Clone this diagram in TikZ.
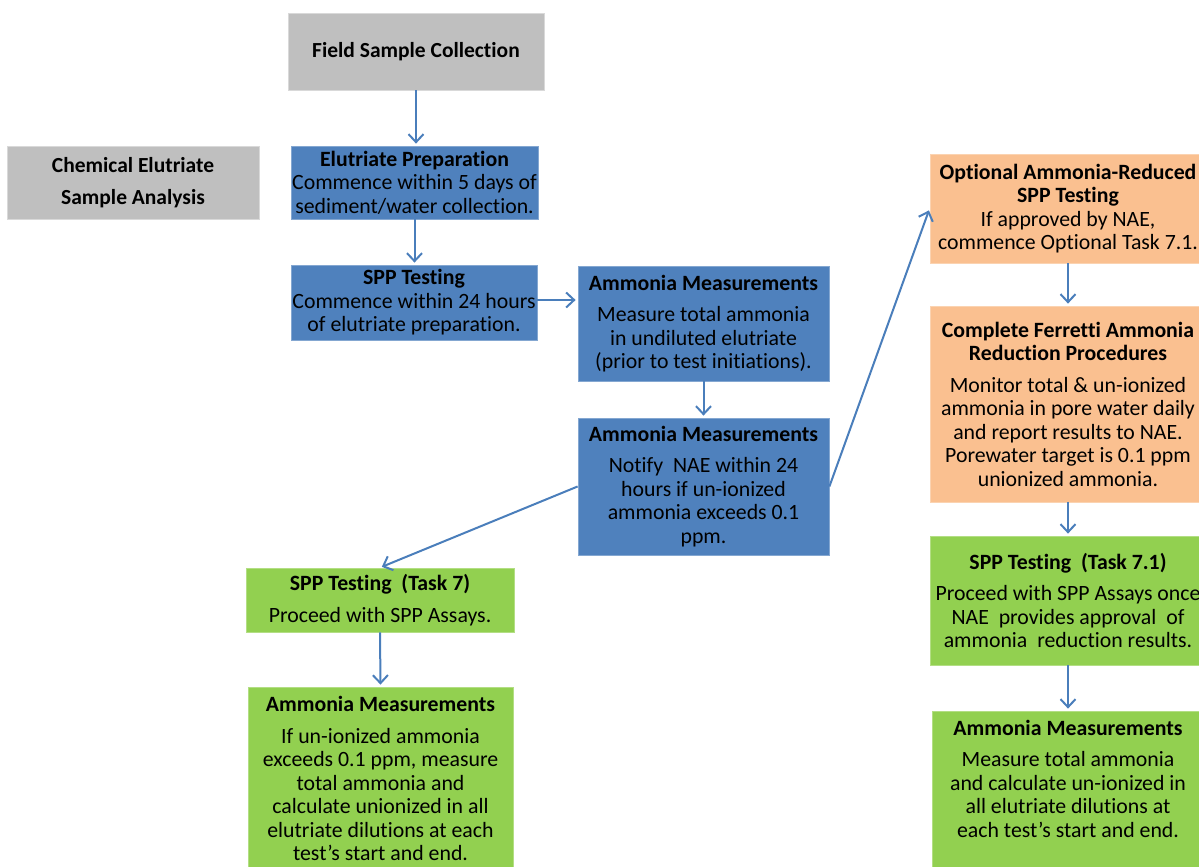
\documentclass[tikz,border=0pt]{standalone}
\usepackage{fontspec}
\setmainfont{Carlito}[Ligatures=NoCommon]
\usetikzlibrary{arrows.meta}
\definecolor{bxgray}{HTML}{BFBFBF}
\definecolor{bxblue}{HTML}{4F81BD}
\definecolor{bxorange}{HTML}{FAC090}
\definecolor{bxgreen}{HTML}{92D050}
\definecolor{arr}{HTML}{4A7EBB}
\tikzset{
  box/.style={rectangle, inner sep=0pt, align=center, text=black},
  graybox/.style={box, fill=bxgray, draw=bxgray!60!white, line width=0.8pt, font=\fontsize{21.5}{32}\selectfont\bfseries},
  bluebox/.style={box, fill=bxblue, draw=bxblue!70!white, line width=0.8pt, font=\fontsize{21.8}{23.5}\selectfont},
  orangebox/.style={box, fill=bxorange, draw=bxorange!70!white, line width=0.8pt, font=\fontsize{21.8}{23.5}\selectfont},
  greenbox/.style={box, fill=bxgreen, draw=bxgreen!70!white, line width=0.8pt, font=\fontsize{21.8}{23.5}\selectfont},
  txt/.style={inner sep=0pt, align=center, text=black, font=\fontsize{21.8}{23.5}\selectfont},
  flow/.style={draw=arr, line width=2pt, -{Straight Barb[length=8pt,width=15pt]}, shorten >=2pt},
}
\begin{document}
\begin{tikzpicture}[x=1pt,y=-1pt]
\useasboundingbox (0,0) rectangle (1199,867);
\clip (0,0) rectangle (1199,867);
\node[graybox, minimum width=256, minimum height=77] (field) at (416,51.5) {Field Sample Collection};
\node[graybox, minimum width=252, minimum height=73] (chem) at (133,182.5) {Chemical Elutriate\\Sample Analysis};
\node[bluebox, minimum width=247, minimum height=73] (elut) at (414.5,182.5) {\textbf{Elutriate Preparation}\\Commence within 5 days of\\sediment/water collection.};
\node[bluebox, minimum width=246, minimum height=75] (spp) at (414,302.5) {\textbf{SPP Testing}\\Commence within 24 hours\\of elutriate preparation.};
\node[bluebox, minimum width=251, minimum height=115] (am1) at (703.5,323.5) {\textbf{Ammonia Measurements}\\[8pt]Measure total ammonia\\in undiluted elutriate\\(prior to test initiations).};
\node[bluebox, minimum width=251, minimum height=137] (am2) at (703.5,486.5) {\textbf{Ammonia Measurements}\\[8pt]Notify\ \ NAE within 24\\hours if un-ionized\\ammonia exceeds 0.1\\ppm.};
\node[orangebox, minimum width=276, minimum height=109] (opt) at (1068,208.5) {\textbf{Optional Ammonia-Reduced}\\\textbf{SPP Testing}\\If approved by NAE,\\commence Optional Task 7.1.};
\node[orangebox, minimum width=276, minimum height=196] (fer) at (1068,404) {\textbf{Complete Ferretti Ammonia}\\\textbf{Reduction Procedures}\\[8pt]Monitor total \& un-ionized\\ammonia in pore water daily\\and report results to NAE.\\Porewater target is 0.1 ppm\\unionized ammonia.};
\node[greenbox, minimum width=276, minimum height=129] (t71) at (1068,600.5) {\textbf{SPP Testing\ \ (Task 7.1)}\\[8pt]Proceed with SPP Assays once\\NAE\ \ provides approval\ \ of\\ammonia\ \ reduction results.};
\node[greenbox, minimum width=274, minimum height=169] (amR) at (1069,795.5) {};
\node[txt] (amRt) at (1068,778.5) {\textbf{Ammonia Measurements}\\[8pt]Measure total ammonia\\and calculate un-ionized in\\all elutriate dilutions at\\each test’s start and end.};
\node[greenbox, minimum width=268, minimum height=64] (t7) at (380,600) {\textbf{SPP Testing\ \ (Task 7)}\\[8pt]Proceed with SPP Assays.};
\node[greenbox, minimum width=265, minimum height=183] (amL) at (380.5,778.5) {\textbf{Ammonia Measurements}\\[8pt]If un-ionized ammonia\\exceeds 0.1 ppm, measure\\total ammonia and\\calculate unionized in all\\elutriate dilutions at each\\test’s start and end.};
\draw[flow] (field.south) -- (field.south |- elut.north);
\draw[flow] (elut.south) -- (elut.south |- spp.north);
\draw[flow] (spp.east |- 0,300) -- (am1.west |- 0,300);
\draw[flow] (am1.south) -- (am2.north);
\draw[flow] (am2.east) -- (opt.west);
\draw[flow] (am2.west) -- (t7.north);
\draw[flow] (t7.south) -- (amL.north);
\draw[flow] (opt.south) -- (fer.north);
\draw[flow] (fer.south) -- (t71.north);
\draw[flow] (t71.south) -- (t71.south |- amR.north);
\end{tikzpicture}
\end{document}
